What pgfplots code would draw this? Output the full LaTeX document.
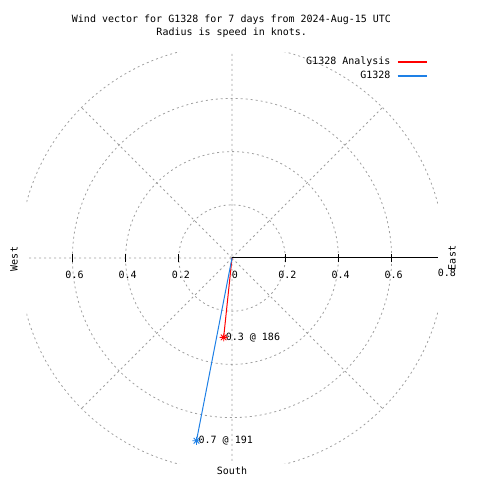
\documentclass[border=0pt]{standalone}
\usepackage{pgfplots}
\pgfplotsset{compat=1.18}
\usepackage{fontspec}
\setmainfont{DejaVu Sans Mono}
\definecolor{gridgray}{RGB}{160,160,160}
\definecolor{vecred}{RGB}{255,0,0}
\definecolor{vecblue}{RGB}{30,128,230}
\pgfdeclareplotmark{burst}{%
  \pgfpathmoveto{\pgfqpoint{-\pgfplotmarksize}{0pt}}\pgfpathlineto{\pgfqpoint{\pgfplotmarksize}{0pt}}%
  \pgfpathmoveto{\pgfqpoint{0pt}{-\pgfplotmarksize}}\pgfpathlineto{\pgfqpoint{0pt}{\pgfplotmarksize}}%
  \pgfpathmoveto{\pgfqpoint{-0.7\pgfplotmarksize}{-0.7\pgfplotmarksize}}\pgfpathlineto{\pgfqpoint{0.7\pgfplotmarksize}{0.7\pgfplotmarksize}}%
  \pgfpathmoveto{\pgfqpoint{-0.7\pgfplotmarksize}{0.7\pgfplotmarksize}}\pgfpathlineto{\pgfqpoint{0.7\pgfplotmarksize}{-0.7\pgfplotmarksize}}%
  \pgfusepathqstroke}
\begin{document}
\fontsize{10}{13}\selectfont
\begin{tikzpicture}
\begin{axis}[
  scale only axis, width=480pt, height=480pt,
  xmin=-0.87218, xmax=0.93233, ymin=-0.83459, ymax=0.96992,
  axis lines=none, clip=false,
  legend plot pos=right,
  legend cell align=right,
  legend image code/.code={\path[draw=none,fill=none] (0pt,-2pt) rectangle (35pt,2pt);\draw[#1, line width=1.6pt] (6pt,0pt) -- (35pt,0pt);},
  legend style={at={(axis cs:0.735,0.7593)}, anchor=north east, draw=none, fill=none,
    font=\fontsize{10}{12}\selectfont, row sep=3pt, inner sep=0pt,
    nodes={inner sep=1pt}},
]
% invisible frame for the page size
\path (axis cs:-0.87218,-0.83459) rectangle (axis cs:0.93233,0.96992);
% grid
\begin{scope}
\clip (axis cs:-0.772,-0.774) rectangle (axis cs:0.774,0.772);
\draw[gridgray, dash pattern=on 2pt off 3pt, line width=0.8pt]
  (axis cs:0,0) circle[radius=0.2]
  (axis cs:0,0) circle[radius=0.4]
  (axis cs:0,0) circle[radius=0.6]
  (axis cs:0,0) circle[radius=0.8];
\draw[gridgray, dash pattern=on 2pt off 3pt, line width=0.8pt]
  (axis cs:0,0) -- (axis cs:0.5657,0.5657)
  (axis cs:0,0) -- (axis cs:-0.5657,0.5657)
  (axis cs:0,0) -- (axis cs:-0.5657,-0.5657)
  (axis cs:0,0) -- (axis cs:0.5657,-0.5657)
  (axis cs:0,-0.8) -- (axis cs:0,0.8)
  (axis cs:-0.8,0) -- (axis cs:0,0);
\draw[black, line width=1pt] (axis cs:0,0) -- (axis cs:0.8,0);
\end{scope}
% ticks
\draw[black, line width=0.8pt]
  (axis cs:-0.6,-0.016) -- (axis cs:-0.6,0.016)
  (axis cs:-0.4,-0.016) -- (axis cs:-0.4,0.016)
  (axis cs:-0.2,-0.016) -- (axis cs:-0.2,0.016)
  (axis cs:0.2,-0.016) -- (axis cs:0.2,0.016)
  (axis cs:0.4,-0.016) -- (axis cs:0.4,0.016)
  (axis cs:0.6,-0.016) -- (axis cs:0.6,0.016);
% tick labels
\node at (axis cs:-0.5920,-0.0639) {0.6};
\node at (axis cs:-0.3920,-0.0639) {0.4};
\node at (axis cs:-0.1920,-0.0639) {0.2};
\node at (axis cs:0.0110,-0.0639) {0};
\node at (axis cs:0.2080,-0.0639) {0.2};
\node at (axis cs:0.4080,-0.0639) {0.4};
\node at (axis cs:0.6080,-0.0639) {0.6};
\node at (axis cs:0.8080,-0.0560) {0.8};
% direction labels
\node[rotate=90] at (axis cs:-0.8195,-0.0038) {West};
\node[rotate=90] at (axis cs:0.8270,0) {East};
\node at (axis cs:0,-0.8008) {South};
% title
\node at (axis cs:-0.0019,0.8947) {Wind vector for G1328 for 7 days from 2024-Aug-15 UTC};
\node at (axis cs:-0.0010,0.8459) {Radius is speed in knots.};
% data
\addplot[vecred, line width=1pt, mark=burst, mark size=4pt, mark indices={2},
  mark options={line width=0.8pt}] coordinates {(0,0) (-0.03136,-0.29836)};
\addlegendentry{G1328 Analysis}
\addplot[vecblue, line width=1pt, mark=burst, mark size=4pt, mark indices={2},
  mark options={line width=0.8pt}] coordinates {(0,0) (-0.13357,-0.68714)};
\addlegendentry{G1328}
\node[anchor=west, inner sep=0pt] at (axis cs:-0.0239,-0.29836) {0.3 @ 186};
\node[anchor=west, inner sep=0pt] at (axis cs:-0.1261,-0.68714) {0.7 @ 191};
\end{axis}
\end{tikzpicture}
\end{document}
